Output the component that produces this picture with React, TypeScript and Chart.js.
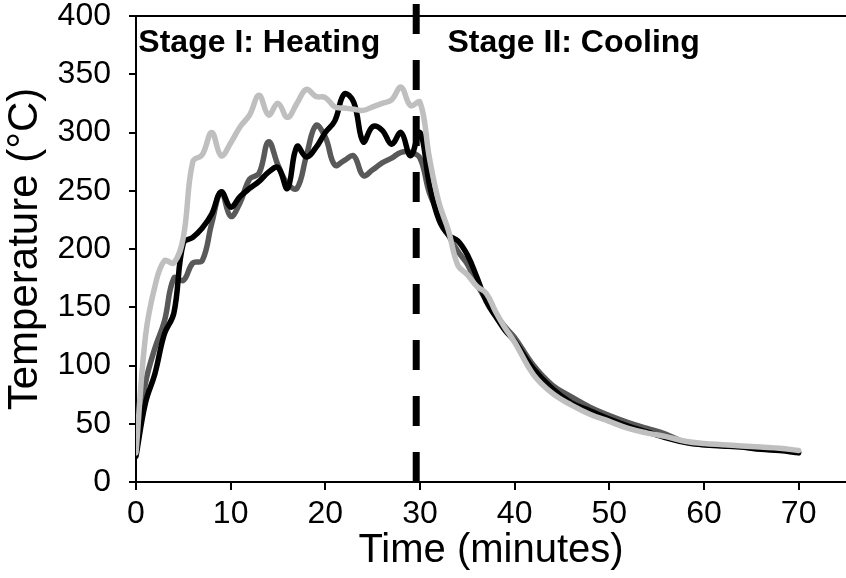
import React, { useEffect, useRef } from "react";
import { Chart, registerables } from "chart.js";

Chart.register(...registerables);

// ---- data ----
const times = [
  0, 1, 2, 3, 4, 5, 6, 7, 8, 9, 10, 11, 12, 13, 14, 15, 16, 17, 18, 19, 20,
  21, 22, 23, 24, 25, 26, 27, 28, 29, 30, 31, 32, 33, 34, 35, 36, 37, 38, 39,
  40, 42, 44, 46, 48, 50, 52, 54, 56, 58, 60, 62, 64, 66, 68, 70,
];

const blackSeries = [
  22, 68, 93, 127, 145, 205, 210, 218, 230, 249, 236, 245, 252, 258, 266, 270,
  252, 288, 279, 287, 300, 310, 333, 326, 292, 305, 302, 290, 300, 280, 300,
  255, 225, 212, 207, 195, 176, 155, 142, 130, 121, 97, 80, 68, 61, 54, 48, 43,
  38, 34, 32, 31, 30, 28, 27, 25,
];

const darkGraySeries = [
  30, 85, 115, 138, 175, 173, 188, 190, 222, 249, 228, 240, 260, 265, 292, 272,
  256, 252, 280, 306, 296, 272, 276, 280, 263, 268, 274, 278, 283, 283, 278,
  248, 230, 212, 198, 187, 170, 156, 144, 133, 124, 100, 83, 73, 64, 57, 51, 46,
  41, 34, 32, 31, 30, 29, 28, 26,
];

const lightGraySeries = [
  25, 125, 168, 190, 188, 210, 275, 281, 300, 280, 291, 305, 315, 332, 315, 325,
  313, 325, 337, 331, 330, 322, 321, 320, 319, 322, 325, 328, 339, 323, 326,
  278, 240, 216, 186, 178, 168, 162, 146, 132, 120, 92, 76, 66, 58, 52, 46, 42,
  39, 35, 33, 32, 31, 30, 29, 27,
];

const transitionTime = 29.6;
const transitionTemps = [0, 412];

const stageLabels = ["Stage I: Heating", "Stage II: Cooling"];
const stageLabelTimes = [0.25, 32.9];
const stageLabelTemp = 377;

const xTitle = "Time (minutes)";
const yTitle = "Temperature (°C)";

const FONT = "'Liberation Sans', Arial, sans-serif";

const toPoints = (ys: number[]) => ys.map((y, i) => ({ x: times[i], y }));

const overlayPlugin = {
  id: "overlay",
  afterDatasetsDraw(chart: any) {
    const { ctx, chartArea, scales } = chart;
    ctx.save();
    // top border
    ctx.strokeStyle = "#000";
    ctx.lineWidth = 2;
    ctx.beginPath();
    ctx.moveTo(chartArea.left, chartArea.top);
    ctx.lineTo(chartArea.right, chartArea.top);
    ctx.stroke();
    // stage labels
    ctx.fillStyle = "#000";
    ctx.font = `bold 32px ${FONT}`;
    ctx.textBaseline = "middle";
    ctx.textAlign = "left";
    stageLabels.forEach((s, i) => {
      ctx.fillText(
        s,
        scales.x.getPixelForValue(stageLabelTimes[i]),
        scales.y.getPixelForValue(stageLabelTemp)
      );
    });
    ctx.restore();
  },
};

export default function App() {
  const ref = useRef<HTMLCanvasElement | null>(null);

  useEffect(() => {
    if (!ref.current) return;
    const chart = new Chart(ref.current, {
      type: "line",
      data: {
        datasets: [
          {
            data: transitionTemps.map((y) => ({ x: transitionTime, y })),
            borderColor: "#000",
            borderWidth: 7,
            borderDash: [30, 26],
            pointRadius: 0,
            clip: false as any,
            order: 0,
          },
          {
            data: toPoints(lightGraySeries),
            borderColor: "#bfbfbf",
            borderWidth: 5.5,
            pointRadius: 0,
            tension: 0.4,
            borderCapStyle: "round",
            borderJoinStyle: "round",
            order: 1,
          },
          {
            data: toPoints(blackSeries),
            borderColor: "#000000",
            borderWidth: 5.5,
            pointRadius: 0,
            tension: 0.4,
            borderCapStyle: "round",
            borderJoinStyle: "round",
            order: 2,
          },
          {
            data: toPoints(darkGraySeries),
            borderColor: "#595959",
            borderWidth: 5.5,
            pointRadius: 0,
            tension: 0.4,
            borderCapStyle: "round",
            borderJoinStyle: "round",
            order: 3,
          },
        ],
      },
      options: {
        responsive: false,
        animation: false,
        events: [],
        layout: { padding: { top: 16, right: 0, left: 0, bottom: 0 } },
        plugins: { legend: { display: false }, tooltip: { enabled: false } },
        scales: {
          x: {
            type: "linear",
            min: 0,
            max: 75,
            afterBuildTicks: (scale: any) => {
              scale.ticks = scale.ticks.filter((t: any) => t.value <= 70);
            },
            afterFit: (scale: any) => {
              scale.height = 96;
              scale.paddingLeft = 0;
              scale.paddingRight = 0;
              scale.paddingTop = 0;
              scale.paddingBottom = 0;
            },
            ticks: {
              stepSize: 10,
              includeBounds: false,
              autoSkip: false,
              color: "#000",
              font: { family: FONT, size: 32 },
              padding: 5,
              maxRotation: 0,
            },
            grid: {
              drawOnChartArea: false,
              drawTicks: true,
              tickLength: 8,
              color: "#000",
              lineWidth: 2,
            },
            border: { color: "#000", width: 2 },
            title: {
              display: true,
              text: xTitle,
              color: "#000",
              font: { family: FONT, size: 40 },
              padding: { top: 0, bottom: 3 },
            },
          },
          y: {
            min: 0,
            max: 400,
            afterFit: (scale: any) => {
              scale.width = 136;
              scale.paddingTop = 0;
              scale.paddingBottom = 0;
              scale.paddingLeft = 0;
              scale.paddingRight = 0;
            },
            ticks: {
              stepSize: 50,
              color: "#000",
              font: { family: FONT, size: 32 },
              padding: 18,
            },
            grid: {
              drawOnChartArea: false,
              drawTicks: true,
              tickLength: 7,
              color: "#000",
              lineWidth: 2,
            },
            border: { color: "#000", width: 2 },
            title: {
              display: true,
              text: yTitle,
              color: "#000",
              font: { family: FONT, size: 42 },
              padding: { top: 0, bottom: 0 },
            },
          },
        },
      },
      plugins: [overlayPlugin],
    });
    return () => chart.destroy();
  }, []);

  return (
    <div
      style={{
        position: "fixed",
        left: 0,
        top: 0,
        width: 846,
        height: 578,
        background: "#fff",
      }}
    >
      <canvas ref={ref} width={846} height={578} />
    </div>
  );
}
